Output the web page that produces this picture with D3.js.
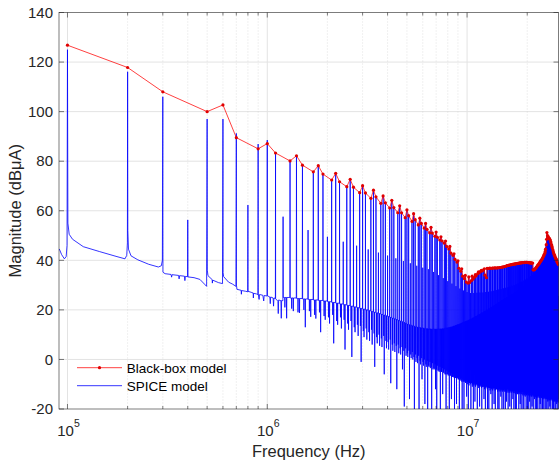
<!DOCTYPE html>
<html>
<head>
<meta charset="utf-8">
<script src="https://cdn.jsdelivr.net/npm/d3@7"></script>
<style>
  body { margin: 0; background: #fff; }
  svg { font-family: "Liberation Sans", Arial, Helvetica, sans-serif; }
</style>
</head>
<body>
<div id="chart"></div>
<script>
// harmonic grid of the 100 kHz switching signal
var fundamentalHz = 1e5

// black-box model: every harmonic except multiples of 4 (dB uA)
var bbHarmonics = d3.range(1, 288).filter((n) => n % 4 !== 0)
var bbMagnitude = [
  126.8, 117.8, 108.0,  100.0, 102.7, 89.5,  85.0, 87.1, 83.3,  80.1, 82.2, 78.4,
  75.7, 78.2, 74.8,  72.4, 75.1, 71.7,  69.7, 72.7, 69.5,  67.3, 70.1, 67.2,
  65.0, 68.3, 65.6,  63.0, 66.0, 63.2,  61.1, 64.2, 61.3,  59.2, 62.0, 59.2,
  57.2, 60.4, 58.0,  55.7, 58.8, 56.4,  54.3, 57.0, 54.9,  53.0, 54.9, 52.5,
  51.1, 53.3, 51.0,  49.7, 51.4, 49.3,  48.2, 49.5, 47.8,  46.9, 47.8, 45.6,
  44.6, 45.6, 42.9,  42.0, 42.6, 40.4,  39.3, 39.8, 36.8,  35.6, 36.6, 33.6,
  32.6, 33.9, 31.2,  30.8, 33.3, 31.0,  31.8, 33.6, 32.4,  33.2, 34.2, 33.8,
  34.6, 35.3, 35.0,  35.6, 36.0, 35.7,  36.2, 36.6, 34.0,  33.0, 36.8, 36.7,
  36.8, 36.9, 36.8,  36.8, 36.9, 36.9,  36.9, 37.0, 36.9,  36.9, 37.0, 37.0,
  37.0, 37.1, 37.1,  37.2, 37.3, 37.3,  37.4, 37.5, 37.5,  37.7, 37.8, 37.9,
  38.0, 38.0, 38.1,  38.2, 38.2, 38.3,  38.4, 38.4, 38.5,  38.5, 38.6, 38.6,
  38.7, 38.7, 38.8,  38.8, 38.9, 38.9,  39.0, 39.0, 39.0,  39.1, 39.1, 39.1,
  39.1, 39.2, 39.2,  39.2, 39.2, 39.2,  39.2, 39.1, 39.1,  39.1, 39.0, 39.0,
  39.0, 38.9, 38.9,  38.9, 36.2, 36.1,  36.2, 36.4, 36.6,  36.9, 37.2, 37.4,
  37.8, 38.0, 38.3,  38.6, 38.9, 39.1,  39.5, 39.8, 40.0,  40.4, 40.7, 41.0,
  41.5, 41.9, 42.3,  42.9, 43.6, 44.5,  46.3, 48.5, 51.2,  50.0, 49.6, 49.3,
  49.0, 48.8, 48.6,  48.2, 47.6, 47.0,  46.2, 45.6, 45.0,  44.2, 43.5, 43.0,
  42.4, 42.0, 41.6,  41.0, 40.8, 40.5,  40.1, 39.6, 39.2,  38.8, 38.5, 38.2
]

// SPICE model below 1.2 MHz, read point by point (kHz, dB uA)
var spiceLowKHz = [
  91, 93.5, 96.5, 98.5, 99.5, 100, 100.5, 102, 106, 120, 145, 175, 194, 198, 199.5,
  200, 200.5, 202, 208, 225, 255, 285, 295, 298.5, 300, 300.5, 308, 330, 332, 334,
  360, 362, 364, 385, 387, 389, 399, 400, 401, 430, 460, 485, 497, 500, 501, 505,
  530, 531, 533, 570, 597, 600, 601, 605, 640, 670, 697, 700, 701, 705, 740, 742,
  744, 780, 798, 800, 801, 830, 850, 852, 854, 885, 898, 900, 901, 910, 915, 950,
  960, 965, 998, 1000, 1001, 1030, 1035, 1040, 1070, 1075, 1080, 1098, 1100, 1101,
  1130, 1135, 1140, 1170, 1175, 1180, 1197
]
var spiceLowDb = [
  44.6, 42.3, 40.6, 41.5, 46, 125.0, 55, 50.5, 48.5, 45.5, 43.5, 41.6, 40.6, 42, 47,
  116.1, 52, 44.5, 41.8, 40.2, 38.4, 37.3, 37.8, 40, 106.0, 35.2, 34.6, 34.3, 33.2, 34.2,
  33.9, 32.5, 33.8, 33.6, 31.8, 33.5, 33.4, 56.3, 33.3, 33.0, 32.3, 30.4, 29.5, 97.0, 36, 33.8,
  32.2, 30.8, 32, 31, 30.6, 97.0, 35, 33.4, 31.2, 30.4, 29.5, 91.2, 30, 28.3, 27.9, 26.3,
  27.8, 27.5, 27.3, 62.3, 27.5, 27.1, 26.8, 24.8, 26.7, 26.4, 26.2, 86.9, 26.5, 24.2, 26.2, 25.9,
  23.6, 25.8, 25.6, 88.5, 25.7, 25.2, 22.5, 25.2, 24.8, 21.5, 24.8, 24.6, 83.6, 24.5,
  23.5, 18.5, 24, 23.7, 16.6, 23.8, 23.7
]

// SPICE model from harmonic 12 on: spike top, floor after the spike, two dips
var spiceHarmonics = d3.range(12, 288)
var spicePeak = [
  57.6, 80.4, 82.4, 78.6,  52.2, 75.9, 78.3, 75.0,  49.5, 72.4, 75.2, 71.8,
  47.5, 69.8, 72.6, 69.4,  45.9, 67.3, 70.0, 67.1,  44.4, 65.0, 68.2, 65.5,
  43.1, 63.0, 66.0, 63.2,  41.9, 61.1, 64.1, 61.3,  40.8, 59.2, 62.0, 59.2,
  39.7, 57.2, 60.3, 58.0,  38.8, 55.7, 58.7, 56.4,  37.8, 54.3, 56.9, 54.9,
  37.0, 53.0, 54.9, 52.5,  36.4, 51.1, 53.2, 51.0,  35.3, 49.7, 51.3, 49.3,
  34.0, 48.2, 49.4, 47.8,  32.8, 46.9, 47.7, 45.6,  31.6, 44.6, 45.5, 42.9,
  30.6, 42.0, 42.5, 40.4,  29.6, 39.3, 39.7, 36.8,  28.6, 35.6, 36.5, 33.6,
  27.8, 32.6, 33.8, 31.2,  27.2, 30.8, 33.2, 31.0,  26.8, 31.8, 33.5, 32.4,
  26.8, 33.2, 34.1, 33.8,  26.9, 34.6, 35.2, 35.0,  27.0, 35.6, 35.9, 35.7,
  27.0, 36.2, 36.5, 34.0,  27.2, 33.0, 36.7, 36.6,  27.3, 36.8, 36.8, 36.7,
  27.5, 36.7, 36.8, 36.8,  27.7, 36.8, 36.9, 36.8,  28.0, 36.8, 36.9, 36.9,
  28.2, 36.9, 37.0, 37.0,  28.4, 37.1, 37.2, 37.2,  28.7, 37.3, 37.4, 37.4,
  28.9, 37.6, 37.7, 37.8,  29.1, 37.9, 37.9, 38.0,  29.4, 38.1, 38.1, 38.2,
  29.7, 38.3, 38.3, 38.4,  30.0, 38.4, 38.5, 38.5,  30.3, 38.6, 38.6, 38.7,
  30.6, 38.7, 38.8, 38.8,  31.0, 38.9, 38.9, 38.9,  31.4, 39.0, 39.0, 39.0,
  31.8, 39.0, 39.1, 39.1,  32.2, 39.1, 39.1, 39.1,  32.6, 39.1, 39.0, 39.0,
  33.1, 39.0, 38.9, 38.9,  33.6, 38.9, 38.8, 38.8,  34.2, 38.8, 36.1, 36.0,
  34.8, 36.1, 36.3, 36.5,  35.5, 36.8, 37.1, 37.3,  36.3, 37.7, 37.9, 38.2,
  37.1, 38.5, 38.8, 39.0,  38.0, 39.4, 39.7, 39.9,  39.0, 40.3, 40.6, 40.9,
  40.4, 41.4, 41.8, 42.2,  42.2, 42.8, 43.5, 44.4,  45.5, 46.2, 48.4, 50.5,
  49.0, 49.6, 49.2, 48.9,  47.5, 48.6, 48.4, 48.2,  45.5, 47.8, 47.2, 46.6,
  43.8, 45.8, 45.2, 44.6,  42.3, 43.8, 43.1, 42.6,  41.0, 42.0, 41.6, 41.2,
  39.8, 40.6, 40.4, 40.1,  38.7, 39.7, 39.2, 38.8,  37.6, 38.4, 38.1, 37.8
]
var spiceFloor = [
  25.0, 24.8, 24.6, 24.4,  24.2, 24.0, 23.8, 23.6,  23.3, 23.0, 22.7, 22.4,
  22.1, 21.8, 21.5, 21.2,  20.9, 20.6, 20.3, 20.0,  19.7, 19.4, 19.1, 18.8,
  18.5, 18.2, 17.9, 17.6,  17.3, 17.0, 16.7, 16.4,  16.1, 15.8, 15.5, 15.2,
  14.9, 14.6, 14.3, 14.0,  13.8, 13.6, 13.4, 13.2,  13.0, 12.9, 12.8, 12.7,
  12.6, 12.5, 12.4, 12.4,  12.3, 12.3, 12.2, 12.2,  12.2, 12.2, 12.2, 12.2,
  12.2, 12.3, 12.3, 12.4,  12.4, 12.5, 12.6, 12.7,  12.8, 12.9, 13.0, 13.1,
  13.2, 13.4, 13.5, 13.7,  13.8, 14.0, 14.1, 14.3,  14.4, 14.6, 14.7, 14.9,
  15.0, 15.2, 15.3, 15.5,  15.6, 15.8, 15.9, 16.1,  16.3, 16.4, 16.6, 16.8,
  16.9, 17.1, 17.3, 17.4,  17.6, 17.8, 17.9, 18.1,  18.3, 18.4, 18.6, 18.8,
  18.9, 19.1, 19.3, 19.4,  19.6, 19.8, 19.9, 20.1,  20.3, 20.4, 20.6, 20.8,
  20.9, 21.1, 21.3, 21.4,  21.6, 21.7, 21.9, 22.0,  22.2, 22.3, 22.5, 22.6,
  22.8, 22.9, 23.1, 23.2,  23.4, 23.5, 23.7, 23.8,  24.0, 24.1, 24.2, 24.4,
  24.5, 24.6, 24.8, 24.9,  25.0, 25.2, 25.3, 25.4,  25.6, 25.7, 25.8, 26.0,
  26.1, 26.2, 26.4, 26.5,  26.6, 26.8, 26.9, 27.0,  27.2, 27.3, 27.4, 27.6,
  27.7, 27.8, 28.0, 28.1,  28.2, 28.4, 28.5, 28.6,  28.8, 28.9, 29.0, 29.2,
  29.3, 29.4, 29.6, 29.7,  29.8, 30.0, 30.1, 30.2,  30.4, 30.5, 30.6, 30.8,
  30.9, 31.0, 31.2, 31.3,  31.4, 31.6, 31.7, 31.8,  32.0, 32.1, 32.2, 32.4,
  32.6, 32.8, 33.0, 33.2,  33.4, 33.6, 33.8, 34.0,  34.2, 34.4, 34.6, 34.8,
  35.0, 35.2, 35.4, 35.6,  35.8, 36.0, 36.2, 36.4,  36.7, 37.0, 37.3, 37.6,
  38.0, 38.4, 38.8, 39.2,  39.6, 40.2, 40.8, 41.4,  42.0, 42.8, 43.6, 44.2,
  44.6, 44.0, 43.2, 42.4,  41.6, 40.8, 40.0, 39.2,  38.4, 37.6, 36.8, 36.0,
  35.3, 34.6, 33.9, 33.2,  32.6, 32.0, 31.4, 30.8,  30.3, 29.8, 29.3, 28.8,
  28.4, 28.0, 27.6, 27.3,  27.0, 26.7, 26.4, 26.1,  25.8, 25.6, 25.4, 25.2
]
var spiceDip = [
  16.6, 19.5, 18.8, 13.0,  17.2, 16.5, 11.0, 16.0,  14.5, 6.5, 14.0, 12.5,
  4.0, 12.0, 1.0, 11.0,  9.5, -1.0, 9.0, 8.0,  7.5, 6.0, -3.0, 6.5,
  5.5, 5.0, -6.0, 4.5,  4.0, -9.6, 3.5, 3.0,  -12.0, 2.5, 2.0, -4.0,
  -19.0, 1.5, 1.0, -16.0,  0.5, 0.0, -22.0, -1.0,  -1.5, -25.0, -2.0, -8.0,
  -2.5, -18.0, -3.0, -25.0,  -3.0, -3.5, -20.0, -4.0,  -4.0, -12.0, -25.0, -4.5,
  -5.0, -25.0, -5.0, -14.0,  -5.5, -6.0, -22.0, -6.0,  -6.5, -25.0, -6.5, -16.0,
  -7.0, -7.0, -25.0, -7.5,  -18.0, -7.5, -8.0, -25.0,  -8.0, -8.5, -20.0, -8.5,
  -25.0, -9.0, -9.0, -15.0,  -9.0, -25.0, -9.5, -9.5,  -22.0, -9.5, -10.0, -25.0,
  -10.0, -17.0, -10.0, -10.0,  -25.0, -10.5, -10.5, -19.0,  -10.5, -10.5, -25.0, -11.0,
  -11.0, -16.0, -11.0, -25.0,  -11.0, -11.0, -21.0, -11.0,  -25.0, -11.5, -11.5, -14.0,
  -11.5, -25.0, -11.5, -11.5,  -18.0, -11.5, -25.0, -12.0,  -12.0, -12.0, -20.0, -12.0,
  -25.0, -12.0, -12.0, -15.0,  -12.0, -25.0, -12.0, -12.0,  -22.0, -12.0, -12.0, -25.0,
  -12.0, -17.0, -12.0, -12.0,  -25.0, -12.0, -12.5, -19.0,  -12.5, -12.5, -25.0, -12.5,
  -12.5, -16.0, -12.5, -25.0,  -12.5, -12.5, -21.0, -12.5,  -25.0, -12.5, -12.5, -14.0,
  -12.5, -25.0, -13.0, -13.0,  -18.0, -13.0, -25.0, -13.0,  -13.0, -13.0, -20.0, -13.0,
  -25.0, -13.0, -13.0, -15.0,  -13.0, -25.0, -13.0, -13.0,  -22.0, -13.0, -13.0, -25.0,
  -13.0, -17.0, -13.0, -13.0,  -25.0, -13.0, -13.5, -19.0,  -13.5, -13.5, -25.0, -13.5,
  -13.5, -16.0, -13.5, -25.0,  -13.5, -13.5, -21.0, -13.5,  -25.0, -13.5, -13.5, -14.0,
  -13.5, -25.0, -14.0, -14.0,  -18.0, -14.0, -25.0, -14.0,  -14.0, -14.0, -20.0, -14.0,
  -25.0, -14.0, -14.0, -15.0,  -14.0, -25.0, -14.0, -14.0,  -22.0, -14.0, -14.0, -25.0,
  -14.0, -17.0, -14.0, -14.0,  -25.0, -14.0, -14.0, -19.0,  -14.0, -14.0, -25.0, -14.0,
  -14.0, -16.0, -14.0, -25.0,  -14.0, -14.0, -21.0, -14.0,  -25.0, -14.0, -14.0, -14.0,
  -14.0, -25.0, -14.0, -14.0,  -18.0, -14.0, -25.0, -14.0,  -14.0, -14.0, -20.0, -14.0
]
var spiceDip2 = [
  21.0, 20.5, 19.0, 20.0,  19.5, 18.0, 19.0, 17.5,  17.0, 18.0, 15.5, 17.0,
  16.0, 14.5, 15.5, 13.0,  14.0, 13.5, 11.5, 12.5,  11.0, 12.0, 10.5, 9.0,
  10.0, 8.5, 9.5, 7.5,  7.0, 8.0, 6.0, 6.5,  5.5, 6.0, 4.5, 5.0,
  3.5, 4.5, 2.5, 3.5,  2.0, 3.0, 1.0, 2.0,  0.5, 1.5, -0.5, 0.5,
  -1.0, 0.0, -2.0, -0.5,  -2.5, -1.0, -3.0, -1.5,  -3.5, -2.0, -4.0, -2.5,
  -4.5, -3.0, -5.0, -3.5,  -5.0, -4.0, -6.0, -4.5,  -6.0, -5.0, -6.5, -5.5,
  -7.0, -6.0, -7.5, -6.5,  -7.5, -7.0, -8.0, -7.0,  -8.5, -7.5, -9.0, -8.0,
  -9.0, -8.5, -9.5, -8.5,  -10.0, -9.0, -10.5, -9.5,  -10.0, -9.5, -11.0, -10.0,
  -10.5, -9.5, -11.0, -10.0,  -10.5, -10.0, -11.5, -10.5,  -11.0, -10.0, -11.5, -10.5,
  -11.0, -10.5, -12.0, -11.0,  -11.5, -10.5, -12.0, -11.0,  -11.5, -11.0, -12.5, -11.0,
  -12.0, -11.0, -12.5, -11.5,  -12.0, -11.0, -12.5, -11.5,  -12.0, -11.5, -13.0, -11.5,
  -12.5, -11.5, -13.0, -12.0,  -12.5, -11.5, -13.0, -12.0,  -12.5, -12.0, -13.0, -12.0,
  -13.0, -12.0, -13.5, -12.0,  -13.0, -12.0, -13.5, -12.5,  -13.0, -12.0, -13.5, -12.5,
  -13.0, -12.5, -13.5, -12.5,  -13.5, -12.5, -14.0, -12.5,  -13.5, -12.5, -14.0, -13.0,
  -13.5, -12.5, -14.0, -13.0,  -13.5, -13.0, -14.0, -13.0,  -14.0, -13.0, -14.5, -13.0,
  -14.0, -13.0, -14.5, -13.5,  -14.0, -13.0, -14.5, -13.5,  -14.0, -13.5, -14.5, -13.5,
  -14.5, -13.5, -15.0, -13.5,  -14.5, -13.5, -15.0, -14.0,  -14.5, -13.5, -15.0, -14.0,
  -14.5, -14.0, -15.0, -14.0,  -15.0, -14.0, -15.5, -14.0,  -15.0, -14.0, -15.5, -14.5,
  -15.0, -14.0, -15.5, -14.5,  -15.0, -14.5, -15.5, -14.5,  -15.5, -14.5, -16.0, -14.5,
  -15.5, -14.5, -16.0, -15.0,  -15.5, -14.5, -16.0, -15.0,  -15.5, -15.0, -16.0, -15.0,
  -16.0, -15.0, -16.5, -15.0,  -16.0, -15.0, -16.5, -15.5,  -16.0, -15.0, -16.5, -15.5,
  -16.0, -15.5, -16.5, -15.5,  -16.5, -15.5, -17.0, -15.5,  -16.5, -15.5, -17.0, -16.0,
  -16.5, -15.5, -17.0, -16.0,  -16.5, -16.0, -17.0, -16.0,  -17.0, -16.0, -17.5, -16.0
]

var yTicks = [-20, 0, 20, 40, 60, 80, 100, 120, 140]
var xMajorTicks = [1e5, 1e6, 1e7]
var xMajorExp = ['5', '6', '7']
var xMinorTicks = [2e5, 3e5, 4e5, 5e5, 6e5, 7e5, 8e5, 9e5, 2e6, 3e6, 4e6, 5e6, 6e6, 7e6, 8e6, 9e6, 2e7]

var width = 560
var height = 462
var plotLeft = 59, plotRight = 558.5, plotTop = 12.5, plotBottom = 409
var axisColor = '#262626'

var svg = d3.select('#chart')
    .append('svg')
    .attr('width', width)
    .attr('height', height)

var xScale = d3.scaleLog()
    .domain([9.07e4, 2.868e7])
    .range([plotLeft, plotRight])

var yScale = d3.scaleLinear()
    .domain([-20, 140])
    .range([plotBottom, plotTop])

svg.append('clipPath')
    .attr('id', 'plotClip')
    .append('rect')
    .attr('x', plotLeft)
    .attr('y', plotTop)
    .attr('width', plotRight - plotLeft)
    .attr('height', plotBottom - plotTop)

// grid
var grid = svg.append('g')
grid.selectAll('.ygrid')
    .data(yTicks.slice(1, -1))
    .enter()
    .append('line')
    .attr('x1', plotLeft).attr('x2', plotRight)
    .attr('y1', (d) => yScale(d)).attr('y2', (d) => yScale(d))
    .attr('stroke', '#e3e3e3').attr('stroke-width', 1)

grid.selectAll('.xminor')
    .data(xMinorTicks)
    .enter()
    .append('line')
    .attr('x1', (d) => xScale(d)).attr('x2', (d) => xScale(d))
    .attr('y1', plotTop).attr('y2', plotBottom)
    .attr('stroke', '#cfcfcf').attr('stroke-width', 0.6)
    .attr('stroke-dasharray', '1,2')

grid.selectAll('.xmajor')
    .data(xMajorTicks)
    .enter()
    .append('line')
    .attr('x1', (d) => xScale(d)).attr('x2', (d) => xScale(d))
    .attr('y1', plotTop).attr('y2', plotBottom)
    .attr('stroke', '#e3e3e3').attr('stroke-width', 1)

// SPICE trace points: spike, then floor with two dips until the next harmonic
var spicePts = spiceLowKHz.map((f, i) => [f * 1e3, spiceLowDb[i]])
spiceHarmonics.forEach(function (n, i) {
    var fl = spiceFloor[i]
    var steps = [
        [0, spicePeak[i]], [0.03, fl], [0.22, fl], [0.25, spiceDip2[i]], [0.28, fl],
        [0.47, fl], [0.5, spiceDip[i]], [0.53, fl], [0.97, fl]
    ]
    steps.forEach((s) => spicePts.push([(n + s[0]) * fundamentalHz, s[1]]))
})

var line = d3.line()
    .x((d) => xScale(d[0]))
    .y((d) => yScale(d[1]))

var plot = svg.append('g').attr('clip-path', 'url(#plotClip)')

plot.append('path')
    .attr('d', line(spicePts))
    .attr('fill', 'none')
    .attr('stroke', '#0000ff')
    .attr('stroke-width', 0.8)

var bbPts = bbHarmonics.map((n, i) => [n * fundamentalHz, bbMagnitude[i]])

plot.append('path')
    .attr('d', line(bbPts))
    .attr('fill', 'none')
    .attr('stroke', '#ff0000')
    .attr('stroke-width', 0.75)

plot.selectAll('.bbdot')
    .data(bbPts)
    .enter()
    .append('circle')
    .attr('cx', (d) => xScale(d[0]))
    .attr('cy', (d) => yScale(d[1]))
    .attr('r', 1.6)
    .attr('fill', '#e00000')

// box and ticks
svg.append('rect')
    .attr('x', plotLeft).attr('y', plotTop)
    .attr('width', plotRight - plotLeft).attr('height', plotBottom - plotTop)
    .attr('fill', 'none')
    .attr('stroke', axisColor).attr('stroke-width', 0.6)

var ticks = svg.append('g').attr('stroke', axisColor).attr('stroke-width', 0.6)
yTicks.forEach(function (t) {
    ticks.append('line').attr('x1', plotLeft).attr('x2', plotLeft + 5).attr('y1', yScale(t)).attr('y2', yScale(t))
    ticks.append('line').attr('x1', plotRight).attr('x2', plotRight - 5).attr('y1', yScale(t)).attr('y2', yScale(t))
})
xMajorTicks.forEach(function (t) {
    ticks.append('line').attr('x1', xScale(t)).attr('x2', xScale(t)).attr('y1', plotBottom).attr('y2', plotBottom - 5)
    ticks.append('line').attr('x1', xScale(t)).attr('x2', xScale(t)).attr('y1', plotTop).attr('y2', plotTop + 5)
})
xMinorTicks.forEach(function (t) {
    ticks.append('line').attr('x1', xScale(t)).attr('x2', xScale(t)).attr('y1', plotBottom).attr('y2', plotBottom - 3)
    ticks.append('line').attr('x1', xScale(t)).attr('x2', xScale(t)).attr('y1', plotTop).attr('y2', plotTop + 3)
})

// tick labels
svg.selectAll('.ylab')
    .data(yTicks)
    .enter()
    .append('text')
    .attr('x', 53)
    .attr('y', (d) => yScale(d) + 5.3)
    .attr('text-anchor', 'end')
    .attr('font-size', 15)
    .attr('fill', axisColor)
    .text((d) => d)

xMajorTicks.forEach(function (t, i) {
    var txt = svg.append('text')
        .attr('x', xScale(t) + 1)
        .attr('y', 435.5)
        .attr('text-anchor', 'middle')
        .attr('font-size', 15)
        .attr('fill', axisColor)
    txt.append('tspan').text('10')
    txt.append('tspan').attr('dy', -8.5).attr('font-size', 10.5).text(xMajorExp[i])
})

svg.append('text')
    .attr('x', (plotLeft + plotRight) / 2)
    .attr('y', 456.5)
    .attr('text-anchor', 'middle')
    .attr('font-size', 16.5)
    .attr('fill', axisColor)
    .text('Frequency (Hz)')

svg.append('text')
    .attr('transform', 'translate(20.5,' + ((plotTop + plotBottom) / 2) + ')rotate(-90)')
    .attr('text-anchor', 'middle')
    .attr('font-size', 16.5)
    .attr('fill', axisColor)
    .text('Magnitude (dBμA)')

// legend
var legend = svg.append('g')
legend.append('line')
    .attr('x1', 77).attr('x2', 122).attr('y1', 367.7).attr('y2', 367.7)
    .attr('stroke', '#ff0000').attr('stroke-width', 0.75)
legend.append('circle')
    .attr('cx', 99.5).attr('cy', 367.7).attr('r', 1.6).attr('fill', '#e00000')
legend.append('text')
    .attr('x', 126.7).attr('y', 372.6)
    .attr('font-size', 13.5).attr('fill', '#000')
    .text('Black-box model')
legend.append('line')
    .attr('x1', 77).attr('x2', 122).attr('y1', 385.7).attr('y2', 385.7)
    .attr('stroke', '#0000ff').attr('stroke-width', 0.8)
legend.append('text')
    .attr('x', 126.7).attr('y', 390.6)
    .attr('font-size', 13.5).attr('fill', '#000')
    .text('SPICE model')
</script>
</body>
</html>
